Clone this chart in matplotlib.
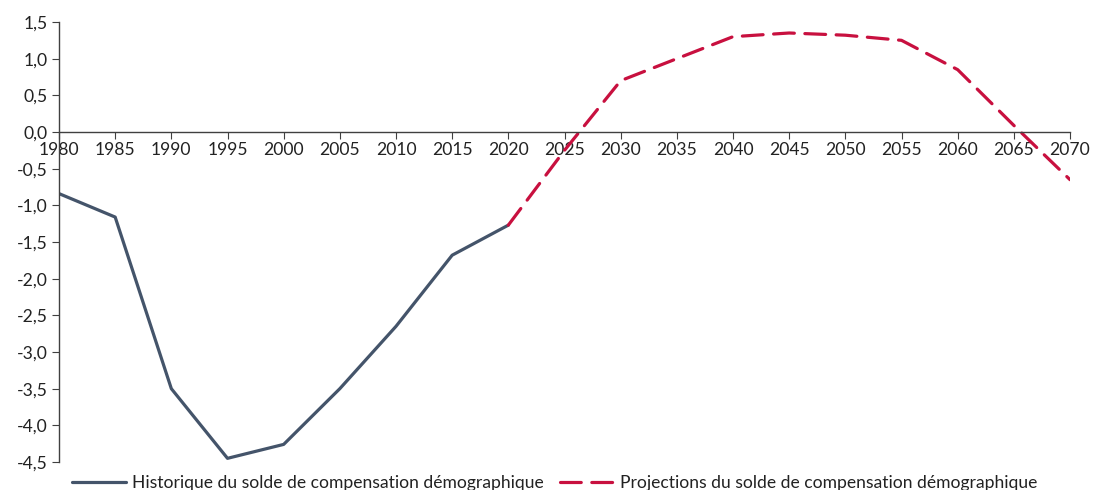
import numpy as np
import matplotlib
matplotlib.use("Agg")
import matplotlib.pyplot as plt

years = ["1980", "1985", "1990", "1995", "2000", "2005", "2010", "2015", "2020",
         "2025", "2030", "2035", "2040", "2045", "2050", "2055", "2060", "2065", "2070"]
historique = [-0.84, -1.16, -3.50, -4.45, -4.26, -3.50, -2.65, -1.68, -1.27,
              None, None, None, None, None, None, None, None, None, None]
projections = [None, None, None, None, None, None, None, None, -1.27,
               -0.25, 0.70, 1.00, 1.30, 1.35, 1.32, 1.25, 0.85, 0.09, -0.65]
y_ticks = [-4.5, -4.0, -3.5, -3.0, -2.5, -2.0, -1.5, -1.0, -0.5, 0.0, 0.5, 1.0, 1.5]
label_hist = "Historique du solde de compensation démographique"
label_proj = "Projections du solde de compensation démographique"

plt.rcParams['font.family'] = ['Lato', 'DejaVu Sans']
FS = 12.6

fig = plt.figure(figsize=(10.94, 4.90), dpi=100)
ax = fig.add_axes([59/1094, 1-462/490, (1070-59)/1094, (462-22)/490])

x = np.arange(len(years))
h = np.array([np.nan if v is None else v for v in historique], dtype=float)
p = np.array([np.nan if v is None else v for v in projections], dtype=float)

ax.plot(x, h, color='#44546A', lw=2.3, label=label_hist, solid_capstyle='round')
ax.plot(x, p, color='#C8103F', lw=2.3, dashes=(6.5, 3.3), label=label_proj,
        dash_capstyle='round')

ax.set_xlim(0, len(years)-1)
ax.set_ylim(-4.5, 1.5)
ax.set_yticks(y_ticks)
ax.set_yticklabels([f"{v:.1f}".replace('.', ',') for v in y_ticks])
ax.set_xticks(x)
ax.set_xticklabels(years)

for s in ['top', 'right']:
    ax.spines[s].set_visible(False)
ax.spines['bottom'].set_position(('data', 0))
ax.spines['bottom'].set_color('#404040')
ax.spines['left'].set_color('#404040')
ax.spines['bottom'].set_linewidth(1.0)
ax.spines['left'].set_linewidth(1.0)
ax.tick_params(axis='x', direction='out', length=5, color='#404040', pad=2,
               labelsize=FS, labelcolor='#222222')
ax.tick_params(axis='y', direction='out', length=5, color='#404040', pad=3,
               labelsize=FS, labelcolor='#222222')

fig.legend(loc='center', bbox_to_anchor=(0.507, 0.014), ncol=2, frameon=False,
           fontsize=FS, handlelength=3.1, columnspacing=0.9, handletextpad=0.35,
           borderpad=0, labelcolor='#222222')

fig.savefig("out.png", dpi=100)
